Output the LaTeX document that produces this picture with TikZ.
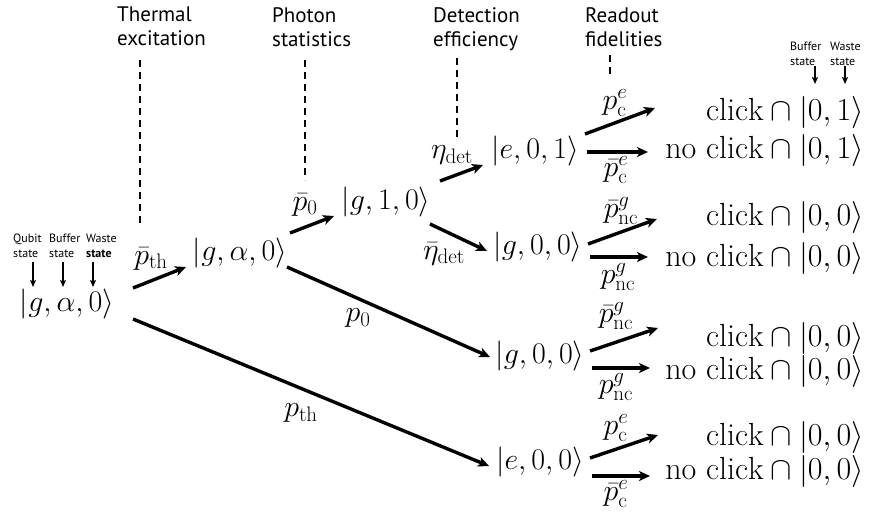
\RequirePackage{fix-cm}
\documentclass[tikz,border=0pt]{standalone}
\usepackage{fontspec}
\newfontfamily\labelfont{PT Sans}
\usetikzlibrary{arrows.meta}
\tikzset{
  mathtxt/.style={inner sep=0pt, font=\fontsize{30}{34}\selectfont},
  outc/.style={inner sep=0pt, anchor=east, font=\fontsize{32}{36}\selectfont},
  toplab/.style={align=left, anchor=north west, inner sep=0pt, font=\labelfont\fontsize{21}{24}\selectfont},
  smalllab/.style={align=left, anchor=north west, inner sep=0pt, font=\labelfont\fontsize{12}{15}\selectfont},
  arr/.style={line width=3.4pt, -{Stealth[length=11pt,width=10pt,inset=3pt]}},
  tinyarr/.style={line width=1.3pt, -{Stealth[length=7pt,width=6pt,inset=1.5pt]}},
  guide/.style={line width=2pt, dash pattern=on 7pt off 5pt}
}
\begin{document}
\begin{tikzpicture}[x=1pt,y=-1pt]
\useasboundingbox (0,0) rectangle (873,512);

% top category labels
\node[toplab] (tl1) at (117,7) {Thermal\\excitation};
\node[toplab] (tl2) at (272,7) {Photon\\statistics};
\node[toplab] (tl3) at (433,7) {Detection\\efficiency};
\node[toplab] (tl4) at (585,7) {Readout\\fidelities};
\coordinate (g1a) at (140,60);  \coordinate (g1b) at (140,223);
\coordinate (g2a) at (305,60);  \coordinate (g2b) at (305,180);
\coordinate (g3a) at (457,58);  \coordinate (g3b) at (457,140);
\coordinate (g4a) at (610,55);  \coordinate (g4b) at (610,77);
\draw[guide] (g1a) -- (g1b);
\draw[guide] (g2a) -- (g2b);
\draw[guide] (g3a) -- (g3b);
\draw[guide] (g4a) -- (g4b);

% small state labels (left)
\node[smalllab] (sq) at (13,234) {Qubit\\state};
\node[smalllab] (sb) at (49,234) {Buffer\\state};
\node[smalllab] (sw) at (86,234) {Waste\\\textbf{state}};
\coordinate (sqa) at (33,262); \coordinate (sqb) at (33,287);
\coordinate (sba) at (63,262); \coordinate (sbb) at (63,287);
\coordinate (swa) at (93,262); \coordinate (swb) at (93,287);
\draw[tinyarr] (sqa) -- (sqb);
\draw[tinyarr] (sba) -- (sbb);
\draw[tinyarr] (swa) -- (swb);

% small state labels (right)
\node[smalllab] (rb) at (790,42) {Buffer\\state};
\node[smalllab] (rw) at (830,42) {Waste\\state};
\coordinate (rba) at (815,66); \coordinate (rbb) at (815,84);
\coordinate (rwa) at (845,66); \coordinate (rwb) at (845,84);
\draw[tinyarr] (rba) -- (rbb);
\draw[tinyarr] (rwa) -- (rwb);

% kets
\node[mathtxt] (k1) at (67,304) {$|g,\alpha,0\rangle$};
\node[mathtxt] (k2) at (240,253) {$|g,\alpha,0\rangle$};
\node[mathtxt] (k3) at (386,202) {$|g,1,0\rangle$};
\node[mathtxt] (k4) at (535,151) {$|e,0,1\rangle$};
\node[mathtxt] (k5) at (538,247) {$|g,0,0\rangle$};
\node[mathtxt] (k6) at (540,356) {$|g,0,0\rangle$};
\node[mathtxt] (k7) at (540,462) {$|e,0,0\rangle$};

% main branch arrows
\coordinate (a1s) at (133,288); \coordinate (a1e) at (186,267);
\coordinate (a2s) at (133,319); \coordinate (a2e) at (489,466);
\coordinate (a3s) at (290,233); \coordinate (a3e) at (334,216);
\coordinate (a4s) at (287,267); \coordinate (a4e) at (490,357);
\coordinate (a5s) at (440,181); \coordinate (a5e) at (483,165);
\coordinate (a6s) at (430,224); \coordinate (a6e) at (487,251);
\draw[arr] (a1s) -- (a1e);
\draw[arr] (a2s) -- (a2e);
\draw[arr] (a3s) -- (a3e);
\draw[arr] (a4s) -- (a4e);
\draw[arr] (a5s) -- (a5e);
\draw[arr] (a6s) -- (a6e);
\node[mathtxt] (l1) at (151,259) {$\bar{p}_{\mathrm{th}}$};
\node[mathtxt] (l2) at (301,413) {$p_{\mathrm{th}}$};
\node[mathtxt] (l3) at (305,205) {$\bar{p}_{0}$};
\node[mathtxt] (l4) at (358,318) {$p_{0}$};
\node[mathtxt] (l5) at (452,155) {$\eta_{\mathrm{det}}$};
\node[mathtxt] (l6) at (444,254) {$\bar{\eta}_{\mathrm{det}}$};

% readout branches: group 4
\coordinate (b4us) at (585,134); \coordinate (b4ue) at (655,108);
\coordinate (b4ds) at (587,152); \coordinate (b4de) at (648,152);
\draw[arr] (b4us) -- (b4ue);
\draw[arr] (b4ds) -- (b4de);
\node[mathtxt] (m4u) at (615,103) {$p^{e}_{\mathrm{c}}$};
\node[mathtxt] (m4d) at (616,170) {$\bar{p}^{e}_{\mathrm{c}}$};
\node[outc] (o4u) at (864,112) {$\mathrm{click}\cap|0,1\rangle$};
\node[outc] (o4d) at (864,150) {$\mathrm{no\ click}\cap|0,1\rangle$};

% group 5
\coordinate (b5us) at (588,244); \coordinate (b5ue) at (657,219);
\coordinate (b5ds) at (590,257); \coordinate (b5de) at (648,257);
\draw[arr] (b5us) -- (b5ue);
\draw[arr] (b5ds) -- (b5de);
\node[mathtxt] (m5u) at (621,211) {$\bar{p}^{g}_{\mathrm{nc}}$};
\node[mathtxt] (m5d) at (618,277) {$p^{g}_{\mathrm{nc}}$};
\node[outc] (o5u) at (864,217) {$\mathrm{click}\cap|0,0\rangle$};
\node[outc] (o5d) at (864,258) {$\mathrm{no\ click}\cap|0,0\rangle$};

% group 6
\coordinate (b6us) at (590,351); \coordinate (b6ue) at (658,328);
\coordinate (b6ds) at (592,368); \coordinate (b6de) at (650,368);
\draw[arr] (b6us) -- (b6ue);
\draw[arr] (b6ds) -- (b6de);
\node[mathtxt] (m6u) at (616,316) {$\bar{p}^{g}_{\mathrm{nc}}$};
\node[mathtxt] (m6d) at (616,387) {$p^{g}_{\mathrm{nc}}$};
\node[outc] (o6u) at (864,338) {$\mathrm{click}\cap|0,0\rangle$};
\node[outc] (o6d) at (864,371) {$\mathrm{no\ click}\cap|0,0\rangle$};

% group 7
\coordinate (b7us) at (590,458); \coordinate (b7ue) at (658,435);
\coordinate (b7ds) at (592,476); \coordinate (b7de) at (650,476);
\draw[arr] (b7us) -- (b7ue);
\draw[arr] (b7ds) -- (b7de);
\node[mathtxt] (m7u) at (616,428) {$p^{e}_{\mathrm{c}}$};
\node[mathtxt] (m7d) at (616,494) {$\bar{p}^{e}_{\mathrm{c}}$};
\node[outc] (o7u) at (864,437) {$\mathrm{click}\cap|0,0\rangle$};
\node[outc] (o7d) at (864,471) {$\mathrm{no\ click}\cap|0,0\rangle$};
\end{tikzpicture}
\end{document}
